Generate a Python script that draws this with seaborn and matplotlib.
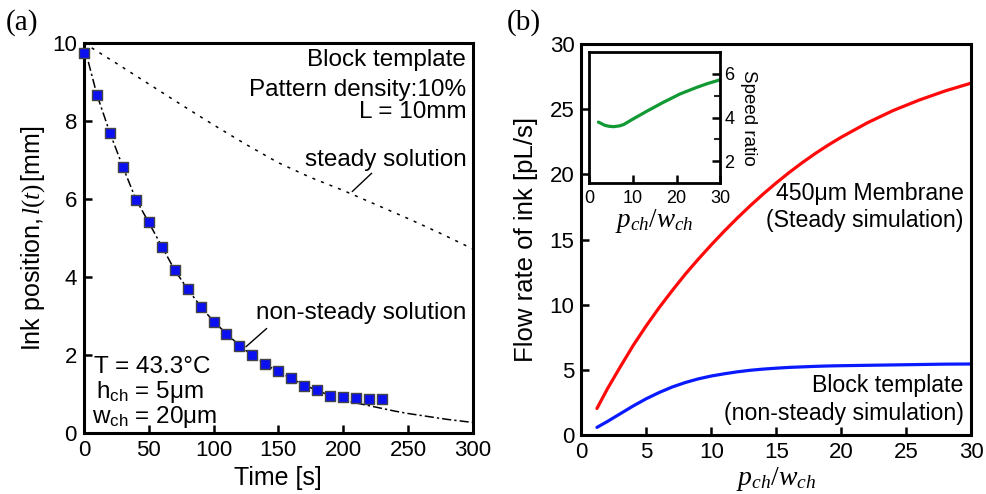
import numpy as np
import pandas as pd
import seaborn as sns
import matplotlib.pyplot as plt

# (a) measured ink position, squares
t_meas = [0, 10, 20, 30, 40, 50, 60, 70, 80, 90, 100, 110, 120, 130, 140, 150,
          160, 170, 180, 190, 200, 210, 220, 230]
l_meas = [9.74, 8.66, 7.69, 6.82, 5.98, 5.40, 4.78, 4.17, 3.68, 3.24, 2.85, 2.55,
          2.23, 1.99, 1.76, 1.58, 1.41, 1.21, 1.10, 0.95, 0.91, 0.90, 0.88, 0.88]
# non-steady solution (dash-dot)
t_ns = [0, 10, 20, 30, 40, 50, 60, 70, 80, 90, 100, 110, 120, 130, 140, 150, 160,
        170, 180, 190, 200, 210, 220, 230, 240, 250, 260, 270, 280, 290, 300]
l_ns = [9.95, 8.68, 7.70, 6.83, 6.00, 5.40, 4.79, 4.18, 3.69, 3.25, 2.86, 2.55,
        2.24, 1.99, 1.76, 1.57, 1.40, 1.23, 1.09, 0.96, 0.85, 0.77, 0.70, 0.63,
        0.56, 0.50, 0.45, 0.40, 0.35, 0.31, 0.27]
# steady solution (dotted)
t_st = [0, 25, 50, 75, 100, 125, 150, 175, 200, 225, 250, 275, 300]
l_st = [10.0, 9.48, 8.95, 8.42, 7.90, 7.40, 6.93, 6.55, 6.22, 5.86, 5.50, 5.12, 4.72]

# (b) flow rate vs p_ch/w_ch
ratio = [1.2, 2, 3, 4, 5, 6, 7, 8, 9, 10, 11, 12, 13, 14, 15, 16, 17, 18, 19,
         20, 22, 24, 26, 28, 30]
q_membrane = [2.05, 3.55, 5.25, 6.9, 8.4, 9.8, 11.1, 12.35, 13.5, 14.6, 15.65,
              16.65, 17.6, 18.5, 19.35, 20.15, 20.9, 21.6, 22.25, 22.85, 23.95,
              24.9, 25.7, 26.4, 27.0]
q_block = [0.6, 1.05, 1.65, 2.25, 2.8, 3.28, 3.7, 4.04, 4.32, 4.54, 4.71, 4.86,
           4.98, 5.07, 5.14, 5.2, 5.24, 5.28, 5.31, 5.33, 5.36, 5.39, 5.42, 5.45,
           5.46]
# inset speed ratio
ratio_in = [2.1, 3, 3.6, 4.5, 5.6, 7, 7.9, 10.1, 13.2, 17, 20.8, 24.6, 27, 30]
speed = [3.79, 3.7, 3.64, 3.6, 3.58, 3.62, 3.68, 3.94, 4.29, 4.70, 5.08, 5.38, 5.55, 5.73]

sns.set_theme(style="ticks")
plt.rcParams["font.family"] = ["Liberation Sans", "DejaVu Sans"]
plt.rcParams["mathtext.fontset"] = "custom"
plt.rcParams["mathtext.it"] = "Liberation Serif:italic"
plt.rcParams["mathtext.rm"] = "Liberation Serif"
plt.rcParams["mathtext.sf"] = "Liberation Sans"
plt.rcParams["text.color"] = "black"
plt.rcParams["axes.labelcolor"] = "black"

TICK = 16
LAB = 18


def style_axes(ax, fs=TICK, lw=2.2):
    for s in ax.spines.values():
        s.set_visible(True)
        s.set_linewidth(lw)
        s.set_color("black")
    ax.tick_params(direction="in", length=6, width=1.8, labelsize=fs,
                   colors="black", pad=5, top=False, right=False)


fig = plt.figure(figsize=(9.87, 4.94), dpi=100)
ax1 = fig.add_axes([0.085, 0.1235, 0.394, 0.7895])
ax2 = fig.add_axes([0.589, 0.119, 0.395, 0.792])
axin = fig.add_axes([0.597, 0.6296, 0.1327, 0.265])

# ---- panel (a)
df_st = pd.DataFrame({"t": t_st, "l": l_st})
df_ns = pd.DataFrame({"t": t_ns, "l": l_ns})
df_m = pd.DataFrame({"t": t_meas, "l": l_meas})
sns.lineplot(data=df_st, x="t", y="l", ax=ax1, color="black", lw=1.1,
             linestyle=(0, (2, 4)))
sns.lineplot(data=df_ns, x="t", y="l", ax=ax1, color="black", lw=1.1,
             linestyle=(0, (6, 2, 1.5, 2)))
sns.scatterplot(data=df_m, x="t", y="l", ax=ax1, marker="s", s=60,
                color="#0a10f0", edgecolor="#444444", linewidth=1.0, zorder=5,
                clip_on=False)
ax1.set_xlim(0, 300)
ax1.set_ylim(0, 10)
ax1.set_xticks([0, 50, 100, 150, 200, 250, 300])
ax1.set_yticks([0, 2, 4, 6, 8, 10])
style_axes(ax1)
ax1.set_xlabel("Time [s]", fontsize=LAB, labelpad=4)
ax1.set_ylabel("Ink position,$\\,l(t)\\,$[mm]", fontsize=LAB, labelpad=4)

A = 17.5
ax1.text(295, 9.56, "Block template", ha="right", va="center", fontsize=A)
ax1.text(295, 8.79, "Pattern density:10%", ha="right", va="center", fontsize=A)
ax1.text(295, 8.22, "L = 10mm", ha="right", va="center", fontsize=A)
ax1.text(295, 7.0, "steady solution", ha="right", va="center", fontsize=A)
ax1.text(295, 3.08, "non-steady solution", ha="right", va="center", fontsize=A)
ax1.plot([222, 207], [6.66, 6.19], color="black", lw=1.0)
ax1.plot([141, 125], [2.68, 2.21], color="black", lw=1.0)
ax1.text(8, 1.69, "T = 43.3°C", ha="left", va="center", fontsize=A)
ax1.text(9, 1.05, "h$_{\\mathsf{ch}}$ = 5μm", ha="left", va="center", fontsize=A)
ax1.text(6.5, 0.41, "w$_{\\mathsf{ch}}$ = 20μm", ha="left", va="center", fontsize=A)

# ---- panel (b)
df_b = pd.DataFrame({"r": ratio, "mem": q_membrane, "blk": q_block})
sns.lineplot(data=df_b, x="r", y="mem", ax=ax2, color="#ff0a0a", lw=2.3)
sns.lineplot(data=df_b, x="r", y="blk", ax=ax2, color="#0a1aff", lw=2.3)
ax2.set_xlim(0, 30)
ax2.set_ylim(0, 30)
ax2.set_xticks([0, 5, 10, 15, 20, 25, 30])
ax2.set_yticks([0, 5, 10, 15, 20, 25, 30])
style_axes(ax2)
ax2.set_xlabel("$p_{ch}/w_{ch}$", fontsize=20, labelpad=1)
ax2.set_ylabel("Flow rate of ink [pL/s]", fontsize=18.5, labelpad=8)
B = 16.7
ax2.text(29.4, 18.57, "450μm Membrane", ha="right", va="center", fontsize=B)
ax2.text(29.4, 16.5, "(Steady simulation)", ha="right", va="center", fontsize=B)
ax2.text(29.4, 3.84, "Block template", ha="right", va="center", fontsize=B)
ax2.text(29.4, 1.66, "(non-steady simulation)", ha="right", va="center", fontsize=B)

# ---- inset
df_in = pd.DataFrame({"r": ratio_in, "s": speed})
sns.lineplot(data=df_in, x="r", y="s", ax=axin, color="#119933", lw=2.3)
axin.set_xlim(0, 30)
axin.set_ylim(1, 7)
axin.set_xticks([0, 10, 20, 30])
axin.set_yticks([2, 4, 6])
axin.set_yticks([3, 5], minor=True)
style_axes(axin, fs=13, lw=2.0)
axin.yaxis.tick_right()
axin.yaxis.set_label_position("right")
axin.tick_params(axis="y", which="both", direction="in", left=False, right=True,
                 labelright=True, labelleft=False, pad=3)
axin.tick_params(axis="y", which="minor", length=4, width=1.5)
axin.set_xlabel("$p_{ch}/w_{ch}$", fontsize=19.5, labelpad=0)
axin.set_ylabel("Speed ratio", fontsize=13.5, rotation=270, labelpad=16)

fig.text(0.006, 0.955, "(a)", fontsize=21, family="Liberation Serif", va="center")
fig.text(0.513, 0.955, "(b)", fontsize=21, family="Liberation Serif", va="center")

fig.savefig("out.png", dpi=100, facecolor="white")
